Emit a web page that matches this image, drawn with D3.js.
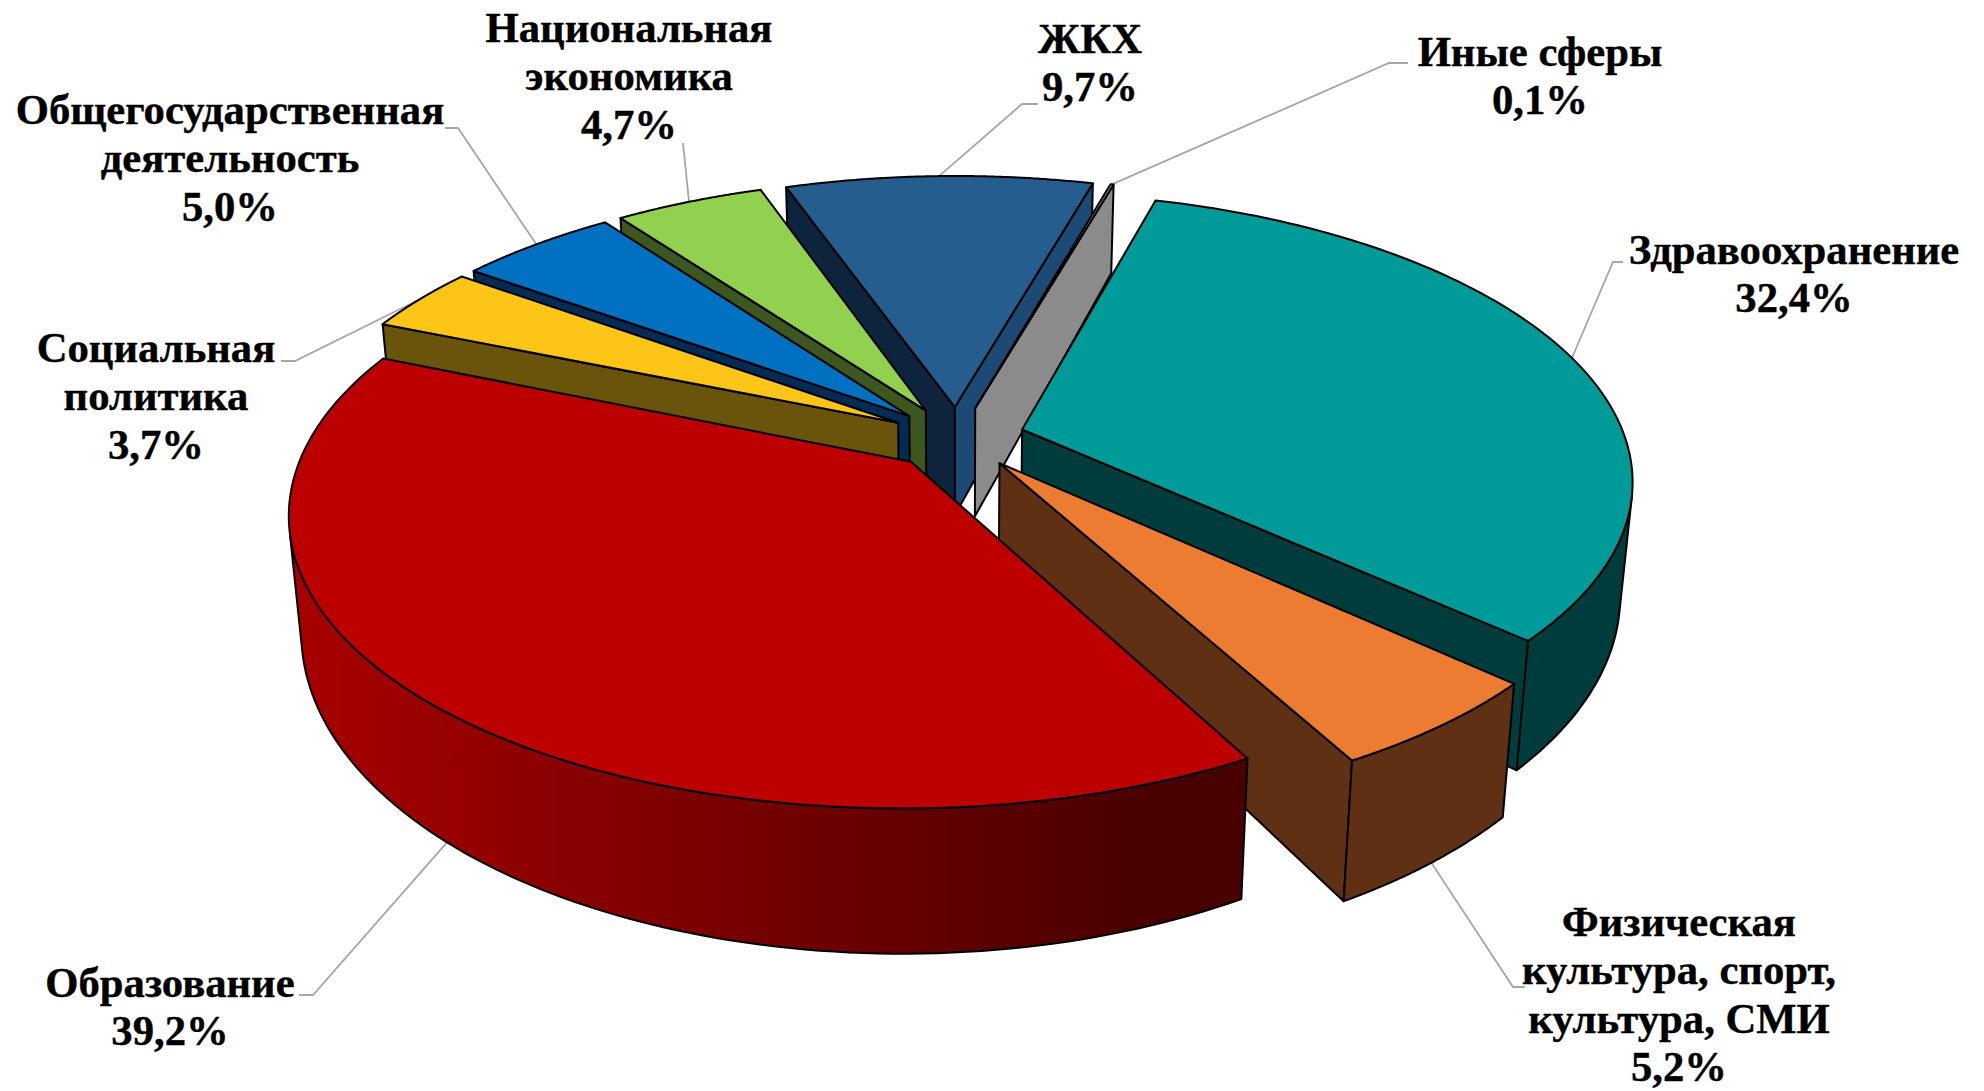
<!DOCTYPE html>
<html>
<head>
<meta charset="utf-8">
<script src="https://cdn.jsdelivr.net/npm/d3@7"></script>
<style>
  html, body { margin: 0; background: #fff; }
  text { font-family: "Liberation Serif", "Times New Roman", serif; font-weight: bold; fill: #000; stroke: #000; stroke-width: 0.4px; }
</style>
</head>
<body>
<svg id="chart" width="1984" height="1091"></svg>
<script>
// values, clockwise from the first slice
const categories = [
  ["Здравоохранение"],
  ["Физическая", "культура, спорт,", "культура, СМИ"],
  ["Образование"],
  ["Социальная", "политика"],
  ["Общегосударственная", "деятельность"],
  ["Национальная", "экономика"],
  ["ЖКХ"],
  ["Иные сферы"],
];
const shares = [32.4, 5.2, 39.2, 3.7, 5.0, 4.7, 9.7, 0.1];

// colours: top, wall at start edge, wall at end edge, outer wall
const topColors = ["#009b98", "#eb7c31", "#bc0000", "#fcc518", "#0070c0", "#92d050", "#265d8f", "#a5a5a5"];
const startWalls = ["#003c3c", "#5f3013", "#4a0000", "#6a540c", "#002b52", "#3d5720", "#0e243d", "#555555"];
const endWalls = ["#003c3c", "#5f3013", "#4a0000", "#6a540c", "#002b52", "#3d5720", "#1d4a75", "#8b8b8b"];
const outerWalls = ["#003c3c", "#5f3013", "url(#redWall)", "#6a540c", "#002b52", "#3d5720", "#1d4a75", "#8b8b8b"];

// label layout: centre x, first line centre y, leader elbow, leader end, leader on bottom rim
const labelX = [1794, 1679, 170, 156, 230, 629, 1090, 1540];
const labelY = [249, 921, 982, 347, 109, 27, 38, 51];
const leaderElbow = [[1613, 262], [1513, 987], [313, 995], [295, 361], [458, 128], [683, 143], [1022, 104], [1389, 63]];
const leaderEnd = [[1623, 262], [1525, 987], [299, 995], [281, 361], [445, 128], null, [1038, 104], [1408, 63]];
const leaderOnBottom = [false, true, true, false, false, false, false, false];

const cx = 957, cy = 438;          // where the pie centre lands on the page
const radius = 603, thickness = 125, explode = 68;
const elevation = Math.asin(0.4635), camera = 3180, wallPerspective = 1.35;
const firstAngle = (16.0 * Math.PI) / 180;
const lineHeight = 48.5, fontSize = 42.7;

const svg = d3.select("#chart");
const line = d3.line();

// a = clockwise from the far side of the pie, z = 0 is the top face
function project(x, y, z) {
  const planeDepth = y * Math.cos(elevation);
  const s = camera / (camera - planeDepth);
  const sx = camera / (camera - planeDepth - z * Math.sin(elevation));
  return [cx + x * sx, cy + y * Math.sin(elevation) * s - z * Math.cos(elevation) * Math.pow(s, wallPerspective)];
}

const pie = d3.pie().sort(null).startAngle(firstAngle).endAngle(firstAngle + 2 * Math.PI);
const slices = pie(shares).map((d, i) => {
  const mid = (d.startAngle + d.endAngle) / 2;
  const ox = explode * Math.sin(mid), oy = -explode * Math.cos(mid);
  return {
    i,
    a0: d.startAngle,
    a1: d.endAngle,
    mid,
    apex: (z) => project(ox, oy, z),
    rim: (a, z) => project(ox + radius * Math.sin(a), oy - radius * Math.cos(a), z),
  };
});

const grad = svg
  .append("defs")
  .append("linearGradient")
  .attr("id", "redWall")
  .attr("gradientUnits", "userSpaceOnUse")
  .attr("x1", 290)
  .attr("x2", 1160)
  .attr("y1", 0)
  .attr("y2", 0);
grad.append("stop").attr("offset", 0).attr("stop-color", "#a80000");
grad.append("stop").attr("offset", 1).attr("stop-color", "#480000");

const leaders = svg.append("g").attr("fill", "none").attr("stroke", "#a6a6a6").attr("stroke-width", 1.8);
const pieGroup = svg.append("g").attr("stroke", "#000").attr("stroke-width", 2).attr("stroke-linejoin", "round");

// back to front
const drawOrder = [6, 7, 5, 4, 3, 0, 1, 2];

function drawFace(points, fill) {
  pieGroup.append("path").attr("d", line(points) + "Z").attr("fill", fill);
}

drawOrder.forEach((idx) => {
  const s = slices[idx];
  const h = -thickness;

  // d3.polygonArea is positive for faces turned to the camera here
  const startFace = [s.apex(0), s.rim(s.a0, 0), s.rim(s.a0, h), s.apex(h)];
  if (d3.polygonArea(startFace) > 0) drawFace(startFace, startWalls[idx]);
  const endFace = [s.apex(0), s.rim(s.a1, 0), s.rim(s.a1, h), s.apex(h)];
  if (d3.polygonArea(endFace) < 0) drawFace(endFace, endWalls[idx]);

  // outer wall, only the part that faces the camera
  const angles = d3.range(0, 121).map((k) => s.a0 + ((s.a1 - s.a0) * k) / 120);
  const visible = angles.slice(0, -1).map((a, k) => {
    const b = angles[k + 1];
    return d3.polygonArea([s.rim(a, 0), s.rim(b, 0), s.rim(b, h), s.rim(a, h)]) > 0 ? [a, b] : null;
  }).filter(Boolean);
  if (visible.length) {
    const seen = [visible[0][0], ...visible.map((v) => v[1])];
    drawFace([...seen.map((a) => s.rim(a, 0)), ...seen.slice().reverse().map((a) => s.rim(a, h))], outerWalls[idx]);
  }

  drawFace([s.apex(0), ...angles.map((a) => s.rim(a, 0))], topColors[idx]);
});

// leaders and labels
slices.forEach((s) => {
  const i = s.i;
  const from = s.rim(s.mid, leaderOnBottom[i] ? -thickness : 0);
  const pts = [from, leaderElbow[i]];
  if (leaderEnd[i]) pts.push(leaderEnd[i]);
  leaders.append("path").attr("d", line(pts));

  const lines = [...categories[i], shares[i].toFixed(1).replace(".", ",") + "%"];
  const text = svg.append("text").attr("text-anchor", "middle").attr("font-size", fontSize);
  lines.forEach((t, k) => {
    text
      .append("tspan")
      .attr("x", labelX[i])
      .attr("y", labelY[i] + k * lineHeight)
      .attr("dy", "0.35em")
      .text(t);
  });
});
</script>
</body>
</html>
